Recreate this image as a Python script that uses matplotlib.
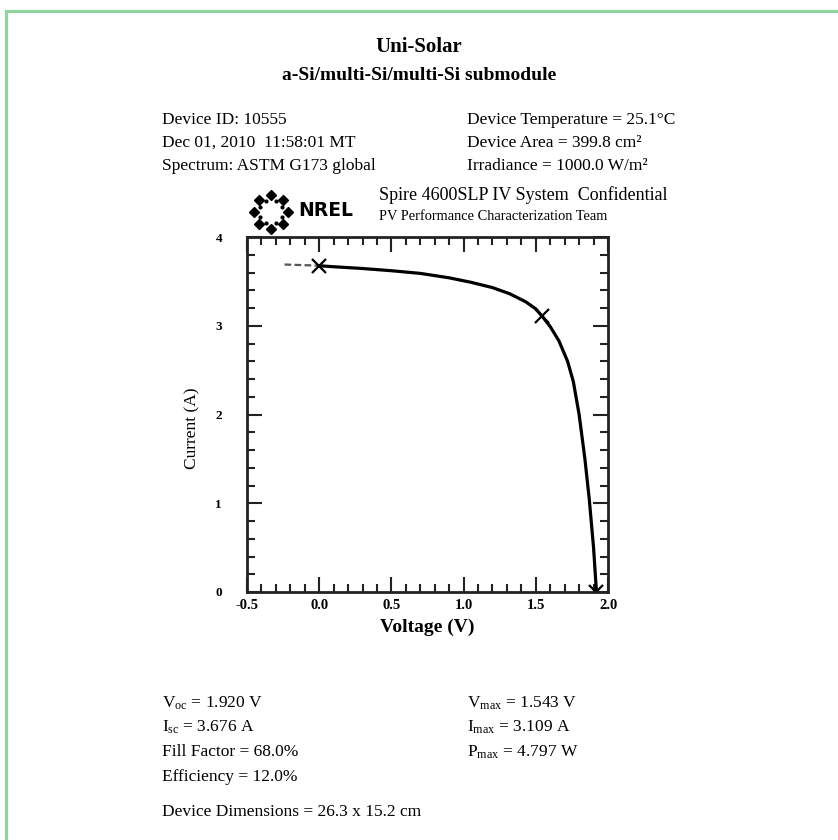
import numpy as np
import matplotlib
matplotlib.use('Agg')
import matplotlib.pyplot as plt
from matplotlib.ticker import MultipleLocator

# I-V curve
voltage = [-0.24, -0.15, -0.05, 0.0, 0.1, 0.3, 0.5, 0.7, 0.9, 1.05, 1.2, 1.32,
           1.43, 1.5, 1.543, 1.6, 1.66, 1.72, 1.76, 1.80, 1.84, 1.87, 1.90, 1.92]
current = [3.69, 3.685, 3.68, 3.676, 3.665, 3.645, 3.62, 3.59, 3.54, 3.49, 3.43, 3.36,
           3.27, 3.19, 3.109, 2.99, 2.83, 2.6, 2.37, 2.0, 1.5, 1.05, 0.5, 0.0]

# marked points: Isc, Pmax, Voc
mark_v = [0.0, 1.543, 1.920]
mark_i = [3.676, 3.109, 0.0]

x_ticks = [-0.5, 0.0, 0.5, 1.0, 1.5, 2.0]
y_ticks = [0, 1, 2, 3, 4]

title_lines = ['Uni-Solar', 'a-Si/multi-Si/multi-Si submodule']
left_header = ['Device ID: 10555', 'Dec 01, 2010  11:58:01 MT', 'Spectrum: ASTM G173 global']
right_header = ['Device Temperature = 25.1\u00b0C', 'Device Area = 399.8 cm\u00b2',
                'Irradiance = 1000.0 W/m\u00b2']
left_results = [r'V$_{\mathrm{oc}}$ = 1.920 V', r'I$_{\mathrm{sc}}$ = 3.676 A',
                'Fill Factor = 68.0%', 'Efficiency = 12.0%']
right_results = [r'V$_{\mathrm{max}}$ = 1.543 V', r'I$_{\mathrm{max}}$ = 3.109 A',
                 r'P$_{\mathrm{max}}$ = 4.797 W']
dimensions = 'Device Dimensions = 26.3 x 15.2 cm'

plt.rcParams['font.family'] = ['Liberation Serif', 'DejaVu Serif']
plt.rcParams['mathtext.fontset'] = 'custom'
plt.rcParams['mathtext.rm'] = 'Liberation Serif'
plt.rcParams['mathtext.it'] = 'Liberation Serif:italic'
plt.rcParams['mathtext.bf'] = 'Liberation Serif:bold'

W, H = 838, 840
fig = plt.figure(figsize=(W / 100, H / 100), dpi=100)


def fx(x):
    return x / W


def fy(y):
    return 1 - y / H


def put(x, y, s, **kw):
    kw.setdefault('va', 'center')
    kw.setdefault('fontsize', 12.5)
    fig.text(fx(x), fy(y), s, **kw)


# green frame (left and top edges)
green = '#8fd49a'
fig.add_artist(plt.Line2D([fx(5.5), fx(5.5)], [fy(10.5), 0], color=green, lw=2.2))
fig.add_artist(plt.Line2D([fx(5.5), 1], [fy(10.5), fy(10.5)], color=green, lw=2.2))

# titles
put(419, 47, title_lines[0], ha='center', fontsize=15, fontweight='bold')
put(419, 76, title_lines[1], ha='center', fontsize=14, fontweight='bold')

# header info
for k, s in enumerate(left_header):
    put(162, 120 + 23 * k, s)
for k, s in enumerate(right_header):
    put(467, 120 + 23 * k, s)

# NREL logo
lax = fig.add_axes([fx(245), fy(236), fx(52), 48 / H])
lax.set_xlim(-26, 26)
lax.set_ylim(-24, 24)
lax.axis('off')
ang = np.deg2rad(np.arange(0, 360, 45))
lax.plot(17 * np.cos(ang), 17 * np.sin(ang), 'D', color='black', ms=4.8)
ang2 = ang + np.deg2rad(22.5)
lax.plot(12 * np.cos(ang2), 12 * np.sin(ang2), 'o', color='black', ms=2.0)
put(298, 211, 'NREL', fontsize=13.5, fontweight='heavy', family='DejaVu Sans')
put(379, 195, 'Spire 4600SLP IV System  Confidential', fontsize=13)
put(379, 217, 'PV Performance Characterization Team', fontsize=10.4)

# main I-V plot
ax = fig.add_axes([fx(247), fy(592), fx(608 - 247), (592 - 237) / H])
v = np.array(voltage)
c = np.array(current)
rev = v <= 0.0
fwd = v >= 0.0
ax.plot(v[rev], c[rev], color='#555555', lw=1.6, ls=(0, (3, 1.5)))
ax.plot(v[fwd], c[fwd], color='black', lw=2.3)
ax.plot(mark_v, mark_i, 'x', color='black', ms=10, mew=1.6)

ax.set_xlim(-0.5, 2.0)
ax.set_ylim(0, 4)
ax.set_xticks(x_ticks)
ax.set_xticklabels(['-0.5', '0.0', '0.5', '1.0', '1.5', '2.0'],
                   fontsize=10.5, fontweight='bold')
ax.set_yticks(y_ticks)
ax.set_yticklabels([str(t) for t in y_ticks], fontsize=9.5, fontweight='bold')
ax.xaxis.set_minor_locator(MultipleLocator(0.1))
ax.yaxis.set_minor_locator(MultipleLocator(0.2))
ax.tick_params(which='both', direction='in', top=True, right=True, width=1.5, color='#222222')
ax.tick_params(which='major', length=11)
ax.tick_params(which='minor', length=6)
ax.tick_params(axis='x', pad=5)
ax.tick_params(axis='y', pad=18)
for sp in ax.spines.values():
    sp.set_linewidth(2.0)
    sp.set_color('#222222')

ax.set_xlabel('Voltage (V)', fontsize=14, fontweight='bold')
ax.xaxis.set_label_coords(0.5, -(627 - 592) / (592 - 237))
ax.set_ylabel('Current (A)', fontsize=12.5)
ax.yaxis.set_label_coords(-(247 - 192) / (608 - 247), (592 - 428) / (592 - 237))
ax.xaxis.label.set_va('center')
ax.yaxis.label.set_va('center')

# results
for k, s in enumerate(left_results):
    put(162, 703 + 24.7 * k, s)
for k, s in enumerate(right_results):
    put(467, 703 + 24.7 * k, s)
put(162, 812, dimensions)

fig.savefig('out.png', dpi=100)
